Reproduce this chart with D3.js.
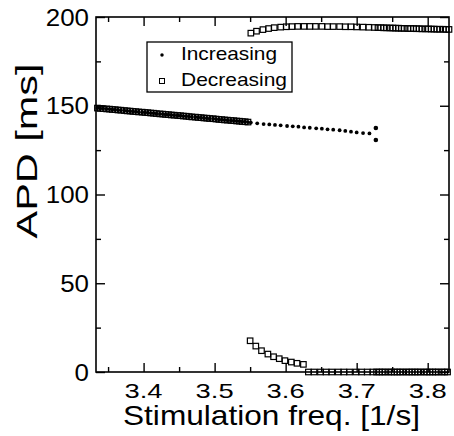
<!DOCTYPE html>
<html>
<head>
<meta charset="utf-8">
<script src="https://cdn.jsdelivr.net/npm/d3@7"></script>
<style>
  body { margin: 0; background: #fff; }
  text { font-family: "Liberation Sans", Arial, sans-serif; fill: #000; }
</style>
</head>
<body>
<div id="chart"></div>
<script>
// stimulation frequency [1/s] and APD [ms]
const sharedFreq = [3.335, 3.339, 3.343, 3.348, 3.352, 3.356, 3.360, 3.364, 3.368, 3.373,
  3.377, 3.381, 3.385, 3.389, 3.393, 3.398, 3.402, 3.406, 3.410, 3.414,
  3.418, 3.423, 3.427, 3.431, 3.435, 3.439, 3.443, 3.448, 3.452, 3.456,
  3.460, 3.464, 3.468, 3.473, 3.477, 3.481, 3.485, 3.489, 3.493, 3.498,
  3.502, 3.506, 3.510, 3.514, 3.518, 3.523, 3.527, 3.531, 3.535, 3.539,
  3.543, 3.547];
const sharedApd = [148.7, 148.5, 148.4, 148.2, 148.1, 147.9, 147.8, 147.6, 147.5, 147.3,
  147.1, 147.0, 146.8, 146.7, 146.5, 146.4, 146.2, 146.1, 145.9, 145.8,
  145.6, 145.4, 145.3, 145.1, 145.0, 144.8, 144.7, 144.5, 144.4, 144.2,
  144.1, 143.9, 143.7, 143.6, 143.4, 143.3, 143.1, 143.0, 142.8, 142.7,
  142.5, 142.3, 142.2, 142.0, 141.9, 141.7, 141.6, 141.4, 141.3, 141.1,
  141.0, 140.8];

const incFreq = [3.551, 3.560, 3.569, 3.577, 3.585, 3.593, 3.602, 3.610, 3.618, 3.626,
  3.634, 3.643, 3.651, 3.659, 3.667, 3.676, 3.684, 3.692, 3.700, 3.709,
  3.718, 3.727, 3.727];
const incApd = [140.5, 140.1, 139.7, 139.5, 139.2, 139.0, 138.6, 138.4, 138.2, 137.8,
  137.6, 137.3, 137.1, 136.7, 136.5, 136.2, 135.8, 135.4, 135.0, 134.6,
  134.4, 137.5, 130.7];

const decUpperFreq = [3.551, 3.559, 3.568, 3.576, 3.584, 3.593, 3.601, 3.609, 3.617, 3.626,
  3.634, 3.642, 3.651, 3.659, 3.667, 3.676, 3.684, 3.692, 3.700, 3.709,
  3.717, 3.725,
  3.730, 3.734, 3.738, 3.742, 3.747, 3.751, 3.755, 3.759, 3.763, 3.767,
  3.772, 3.776, 3.780, 3.784, 3.788, 3.792, 3.797, 3.801, 3.805, 3.809,
  3.813, 3.817, 3.822, 3.826, 3.830];
const decUpperApd = [190.9, 192.0, 192.9, 193.5, 194.0, 194.3, 194.5, 194.6, 194.7, 194.7,
  194.7, 194.7, 194.7, 194.6, 194.6, 194.6, 194.5, 194.5, 194.4, 194.3,
  194.2, 194.1,
  194.0, 194.0, 193.9, 193.9, 193.8, 193.8, 193.7, 193.7, 193.6, 193.6,
  193.5, 193.5, 193.5, 193.4, 193.4, 193.3, 193.3, 193.3, 193.2, 193.2,
  193.1, 193.1, 193.1, 193.0, 193.0];

const decLowerFreq = [3.550, 3.558, 3.566, 3.575, 3.583, 3.591, 3.599, 3.608, 3.616, 3.625,
  3.632, 3.640, 3.649, 3.657, 3.665, 3.674, 3.682, 3.690, 3.699, 3.707,
  3.715, 3.723,
  3.728, 3.732, 3.736, 3.740, 3.745, 3.749, 3.753, 3.757, 3.761, 3.765,
  3.770, 3.774, 3.778, 3.782, 3.786, 3.790, 3.795, 3.799, 3.803, 3.807,
  3.811, 3.815, 3.820, 3.824, 3.828];
const decLowerApd = [17.6, 14.6, 12.0, 10.1, 8.6, 7.5, 6.4, 5.6, 4.9, 4.3,
  0, 0, 0, 0, 0, 0, 0, 0, 0, 0,
  0, 0,
  0, 0, 0, 0, 0, 0, 0, 0, 0, 0,
  0, 0, 0, 0, 0, 0, 0, 0, 0, 0,
  0, 0, 0, 0, 0];

const xMajor = [3.4, 3.5, 3.6, 3.7, 3.8];
const xMinor = [3.35, 3.45, 3.55, 3.65, 3.75];
const yMajor = [0, 50, 100, 150, 200];
const yMinor = [25, 75, 125, 175];
const legendLabels = ['Increasing', 'Decreasing'];

const zip = (fs, as) => fs.map((f, i) => ({ f: f, apd: as[i] }));
const increasing = zip(sharedFreq, sharedApd).concat(zip(incFreq, incApd));
const decreasing = zip(sharedFreq, sharedApd)
    .concat(zip(decUpperFreq, decUpperApd))
    .concat(zip(decLowerFreq, decLowerApd));

const W = 454, H = 436;
const plot = { left: 96, top: 17, right: 449, bottom: 372 };

const x = d3.scaleLinear().domain([3.333, 3.830]).range([plot.left, plot.right]);
const y = d3.scaleLinear().domain([0, 200]).range([plot.bottom, plot.top]);

const svg = d3.select('#chart').append('svg')
    .attr('width', W)
    .attr('height', H);

// ticks (inward on all four sides), then the frame
function tickAxis(axisFn, scale, values, size, transform) {
  const g = svg.append('g')
      .attr('transform', transform)
      .call(axisFn(scale).tickValues(values).tickSizeInner(-size).tickSizeOuter(0).tickFormat(''));
  g.select('.domain').remove();
  g.selectAll('line').attr('stroke', '#000').attr('stroke-width', 1.4);
}
tickAxis(d3.axisBottom, x, xMajor, 9, `translate(0,${plot.bottom})`);
tickAxis(d3.axisBottom, x, xMinor, 5, `translate(0,${plot.bottom})`);
tickAxis(d3.axisTop, x, xMajor, 9, `translate(0,${plot.top})`);
tickAxis(d3.axisTop, x, xMinor, 5, `translate(0,${plot.top})`);
tickAxis(d3.axisLeft, y, yMajor, 9, `translate(${plot.left},0)`);
tickAxis(d3.axisLeft, y, yMinor, 5, `translate(${plot.left},0)`);
tickAxis(d3.axisRight, y, yMajor, 9, `translate(${plot.right},0)`);
tickAxis(d3.axisRight, y, yMinor, 5, `translate(${plot.right},0)`);

svg.append('rect')
    .attr('x', plot.left).attr('y', plot.top)
    .attr('width', plot.right - plot.left)
    .attr('height', plot.bottom - plot.top)
    .attr('fill', 'none')
    .attr('stroke', '#000')
    .attr('stroke-width', 1.6);

// tick labels
svg.append('g').selectAll('text')
    .data(xMajor)
    .join('text')
    .attr('x', (d) => x(d))
    .attr('y', 398)
    .attr('text-anchor', 'middle')
    .attr('font-size', 21)
    .attr('textLength', 38)
    .attr('lengthAdjust', 'spacingAndGlyphs')
    .text((d) => d.toFixed(1));

svg.append('g').selectAll('text')
    .data(yMajor)
    .join('text')
    .attr('x', 89)
    .attr('y', (d) => y(d) + 8.5)
    .attr('text-anchor', 'end')
    .attr('font-size', 23.5)
    .attr('textLength', (d) => String(d).length * 14.4)
    .attr('lengthAdjust', 'spacingAndGlyphs')
    .text((d) => d);

// axis titles
svg.append('text')
    .attr('x', 271.5)
    .attr('y', 425)
    .attr('text-anchor', 'middle')
    .attr('font-size', 28)
    .attr('textLength', 297)
    .attr('lengthAdjust', 'spacingAndGlyphs')
    .text('Stimulation freq. [1/s]');

svg.append('text')
    .attr('transform', 'translate(37,151) rotate(-90)')
    .attr('text-anchor', 'middle')
    .attr('font-size', 29)
    .attr('textLength', 175)
    .attr('lengthAdjust', 'spacingAndGlyphs')
    .text('APD [ms]');

// data
const sq = 5.5;
svg.append('g').selectAll('rect')
    .data(decreasing)
    .join('rect')
    .attr('x', (d) => x(d.f) - sq / 2)
    .attr('y', (d) => y(d.apd) - sq / 2)
    .attr('width', sq)
    .attr('height', sq)
    .attr('fill', 'none')
    .attr('stroke', '#000')
    .attr('stroke-width', 1.2);

svg.append('g').selectAll('circle')
    .data(increasing)
    .join('circle')
    .attr('cx', (d) => x(d.f))
    .attr('cy', (d) => y(d.apd))
    .attr('r', (d) => d.f > 3.72 ? 2.3 : 1.9)
    .attr('fill', '#000');

// legend
const legend = svg.append('g');
legend.append('rect')
    .attr('x', 147).attr('y', 42)
    .attr('width', 145).attr('height', 50)
    .attr('fill', '#fff')
    .attr('stroke', '#000')
    .attr('stroke-width', 1.3);
legend.append('circle')
    .attr('cx', 162).attr('cy', 55).attr('r', 1.75).attr('fill', '#000');
legend.append('rect')
    .attr('x', 162 - 2.5).attr('y', 81 - 2.5)
    .attr('width', 5).attr('height', 5)
    .attr('fill', 'none').attr('stroke', '#000').attr('stroke-width', 1);
legend.selectAll('text')
    .data(legendLabels)
    .join('text')
    .attr('x', 181)
    .attr('y', (d, i) => 60 + i * 26)
    .attr('font-size', 18.5)
    .attr('textLength', (d) => d === 'Increasing' ? 96 : 106)
    .attr('lengthAdjust', 'spacingAndGlyphs')
    .text((d) => d);
</script>
</body>
</html>
